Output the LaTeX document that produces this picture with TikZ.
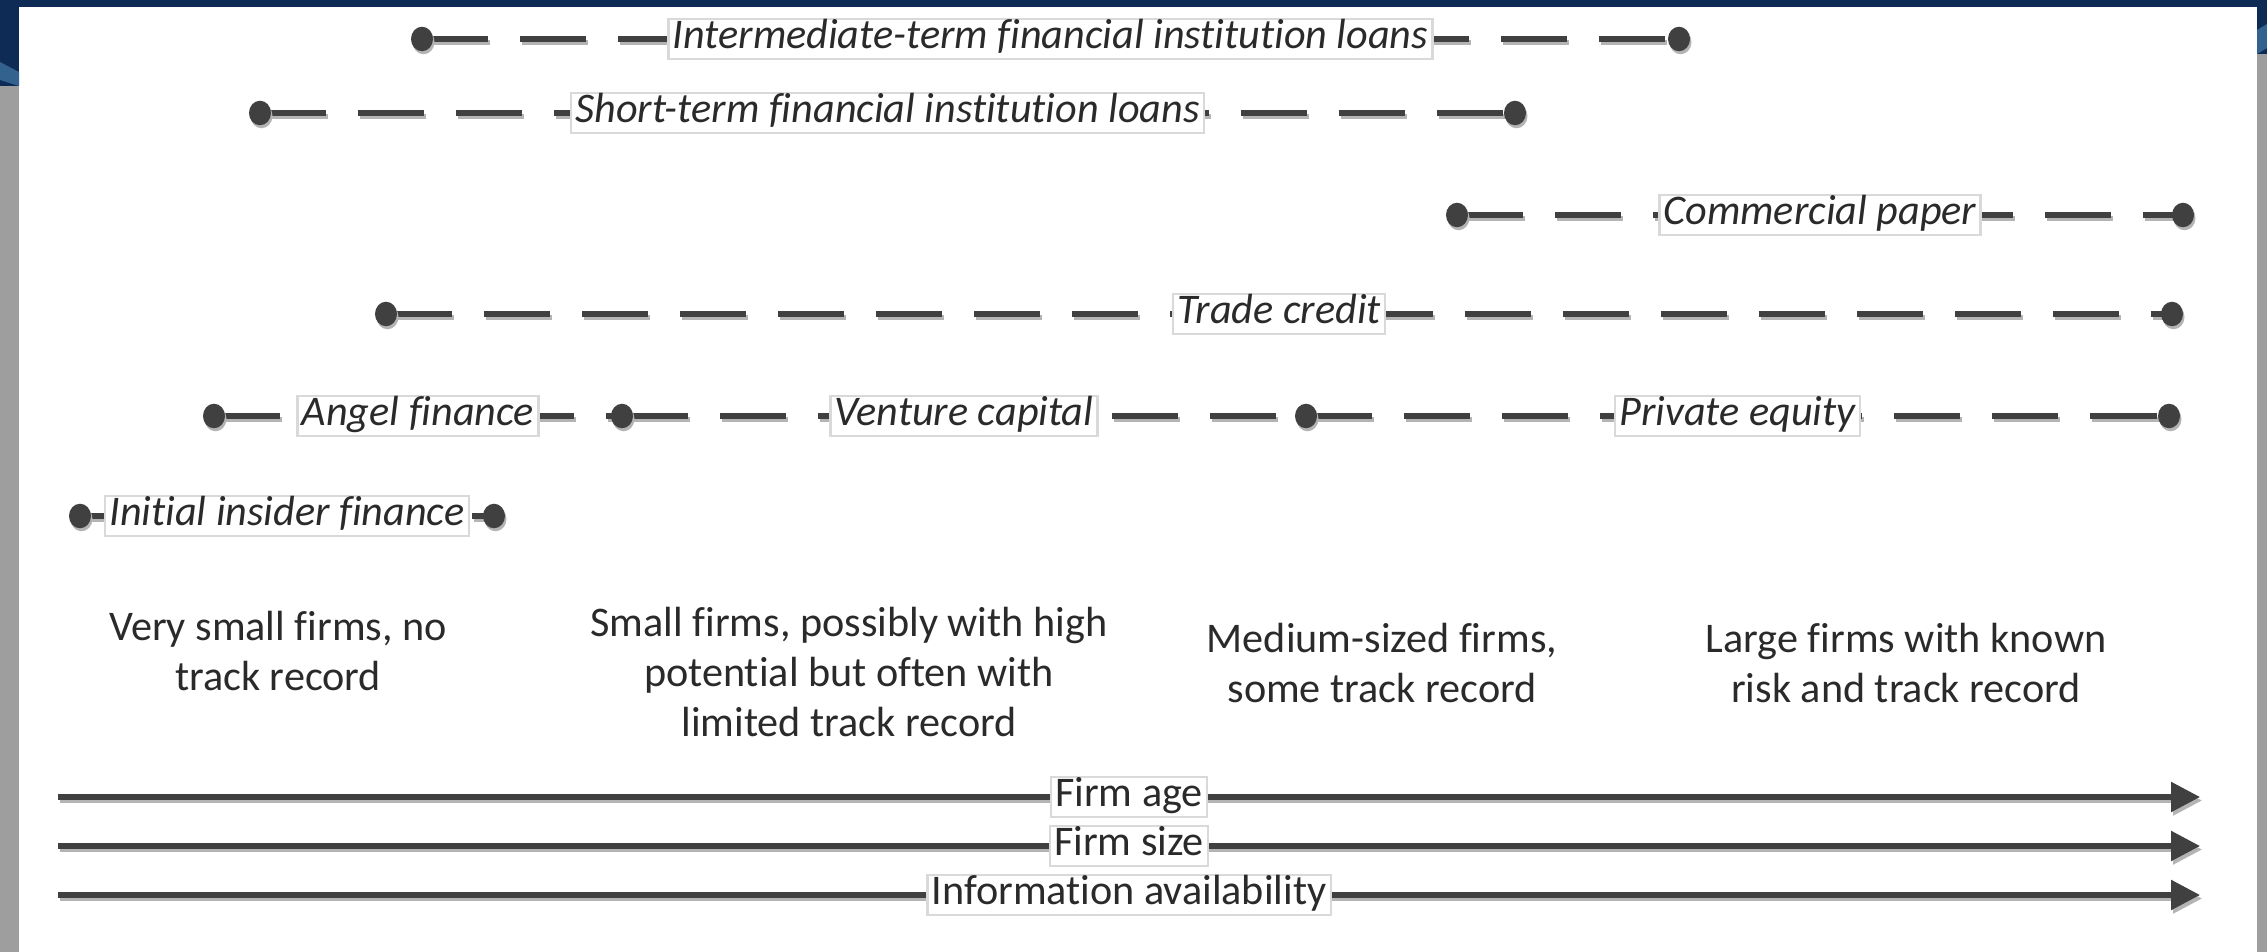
\documentclass[tikz,border=0pt]{standalone}
\usepackage{fontspec}
\setmainfont[Ligatures={NoCommon}]{Carlito}
\usetikzlibrary{arrows.meta,shadows,calc,shapes.geometric}
\definecolor{ln}{HTML}{404040}
\definecolor{sh}{HTML}{B4B4B4}
\definecolor{navy}{HTML}{0E2B56}
\definecolor{blueB}{HTML}{34628F}
\definecolor{strip}{HTML}{9E9E9E}
\definecolor{bx}{HTML}{D9D9D9}
\definecolor{txt}{HTML}{2A2A2A}
\pgfdeclarelayer{bg}
\pgfdeclarelayer{lines}
\pgfsetlayers{bg,lines,main}
\begin{document}
\begin{tikzpicture}[x=0.01cm,y=-0.01cm,
  dotnode/.style={ellipse,fill=ln,minimum width=0.22cm,minimum height=0.245cm,inner sep=0pt,
    drop shadow={shadow xshift=0.015cm,shadow yshift=-0.03cm,fill=sh,opacity=1}},
  lab/.style={draw=bx,line width=0.7pt,fill=white,inner xsep=1.2pt,inner ysep=0.9pt,
    text height=0.74em,text depth=0.22em,text=txt,font=\fontsize{12}{14}\selectfont\itshape},
  axlab/.style={lab,font=\fontsize{12}{14}\selectfont},
  desc/.style={align=center,text=txt,font=\fontsize{12}{14.3}\selectfont,inner sep=0pt},
  seg/.style={ln,line width=0.055cm,dash pattern=on 0.66cm off 0.32cm},
  segsh/.style={sh,line width=0.055cm,dash pattern=on 0.66cm off 0.32cm,
    transform canvas={xshift=0.02cm,yshift=-0.035cm}},
  axis/.style={ln,line width=0.055cm,-{Triangle[length=2.9mm,width=2.9mm]}},
  axissh/.style={sh,line width=0.055cm,-{Triangle[length=2.9mm,width=2.9mm]},
    transform canvas={xshift=0.02cm,yshift=-0.035cm}}
]
\useasboundingbox (0,0) rectangle (2267,952);
\begin{pgfonlayer}{bg}
\fill[white] (0,0) rectangle (2267,952);
\fill[strip] (0,0) rectangle (19,952);
\fill[strip] (2257,0) rectangle (2267,952);
\fill[navy] (0,0) rectangle (2267,7);
\fill[navy] (0,0) rectangle (19,86);
\fill[blueB] (0,62) -- (19,72) -- (19,86) -- (0,80) -- cycle;
\fill[navy] (2257,0) rectangle (2267,54);
\fill[blueB] (2257,30) -- (2267,24) -- (2267,48) -- (2257,54) -- cycle;
\end{pgfonlayer}

% dot coordinates
\coordinate (i1) at (422,39);   \coordinate (i2) at (1679,39);
\coordinate (s1) at (260,113);  \coordinate (s2) at (1515,113);
\coordinate (c1) at (1457,215); \coordinate (c2) at (2183,215);
\coordinate (t1) at (386,314);  \coordinate (t2) at (2172,314);
\coordinate (v1) at (214,416);  \coordinate (v2) at (622,416);
\coordinate (v3) at (1306,416); \coordinate (v4) at (2169,416);
\coordinate (n1) at (80,516);   \coordinate (n2) at (494,516);
% axis coordinates
\coordinate (a1) at (58,797);  \coordinate (b1) at (2200,797);
\coordinate (a2) at (58,846);  \coordinate (b2) at (2200,846);
\coordinate (a3) at (58,895);  \coordinate (b3) at (2200,895);

\begin{pgfonlayer}{lines}
\foreach \p/\q in {i1/i2,s1/s2,c1/c2,t1/t2,v1/v2,v2/v3,v3/v4,n1/n2}{
  \draw[segsh] (\p) -- (\q);
  \draw[seg] (\p) -- (\q);
}
\foreach \p/\q in {a1/b1,a2/b2,a3/b3}{
  \draw[axissh] (\p) -- (\q);
  \draw[axis] (\p) -- (\q);
}
\end{pgfonlayer}

% labels
\node[lab] (Li) at ($(i1)!0.5!(i2)$) {Intermediate-term financial institution loans};
\node[lab] (Ls) at ($(s1)!0.5!(s2)$) {Short-term financial institution loans};
\node[lab] (Lc) at ($(c1)!0.5!(c2)$) {Commercial paper};
\node[lab] (Lt) at ($(t1)!0.5!(t2)$) {Trade credit};
\node[lab] (La) at ($(v1)!0.5!(v2)$) {Angel finance};
\node[lab] (Lv) at ($(v2)!0.5!(v3)$) {Venture capital};
\node[lab] (Lp) at ($(v3)!0.5!(v4)$) {Private equity};
\node[lab] (Ln) at ($(n1)!0.5!(n2)$) {Initial insider finance};

\node[axlab] (Ax1) at ($(a1)!0.5!(b1)$) {Firm age};
\node[axlab] (Ax2) at ($(a2)!0.5!(b2)$) {Firm size};
\node[axlab] (Ax3) at ($(a3)!0.5!(b3)$) {Information availability};

% dots
\foreach \p in {i1,i2,s1,s2,c1,c2,t1,t2,v1,v2,v3,v4,n1,n2}{
  \node[dotnode] (D\p) at (\p) {};
}

% descriptions
\node[desc] (T1) at (278,651) {Very small firms, no\\track record};
\node[desc] (T2) at (849,672) {Small firms, possibly with high\\potential but often with\\limited track record};
\node[desc] (T3) at (1382,663) {Medium-sized firms,\\some track record};
\node[desc] (T4) at (1906,663) {Large firms with known\\risk and track record};
\end{tikzpicture}
\end{document}
